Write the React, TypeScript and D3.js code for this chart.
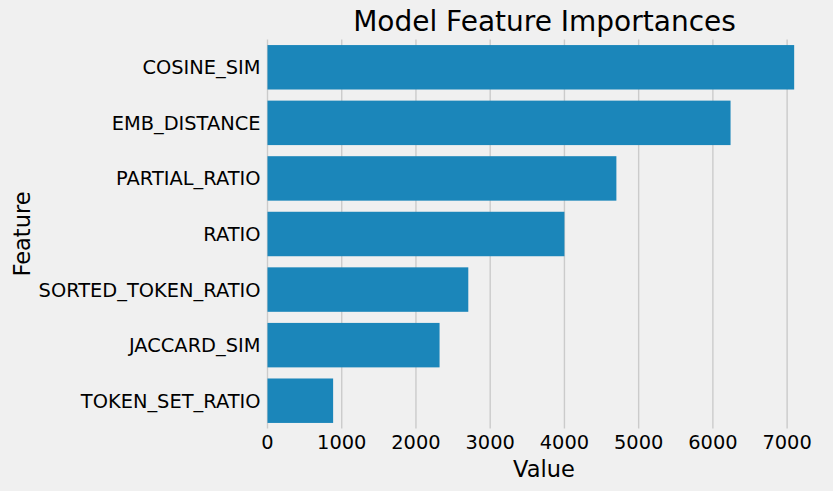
import React, { useEffect, useRef } from 'react';
import * as d3 from 'd3';

const width = 833;
const height = 491;
const margin = { top: 39.5, right: 12, bottom: 62.5, left: 267.5 };
const bg = '#f0f0f0';
const barColor = '#1b86ba';
const gridColor = '#cbcbcb';
const font = 'DejaVu Sans, sans-serif';

const features = [
    'COSINE_SIM',
    'EMB_DISTANCE',
    'PARTIAL_RATIO',
    'RATIO',
    'SORTED_TOKEN_RATIO',
    'JACCARD_SIM',
    'TOKEN_SET_RATIO',
];
const importances = [7095, 6238, 4700, 4000, 2705, 2318, 884];
const xTicks = [0, 1000, 2000, 3000, 4000, 5000, 6000, 7000];

export default function App() {
    const ref = useRef<SVGSVGElement>(null);

    useEffect(() => {
        const svg = d3.select(ref.current);
        svg.selectAll('*').remove();

        const xMax = (d3.max(importances) as number) * 1.05;
        const xScale = d3.scaleLinear().domain([0, xMax]).range([margin.left, margin.left + 553]);
        const yScale = d3.scaleBand<string>()
            .domain(features)
            .range([margin.top, height - margin.bottom])
            .paddingInner(0.2)
            .paddingOuter(0.1);

        svg.append('rect').attr('width', width).attr('height', height).attr('fill', bg);

        const top = margin.top;
        const bottom = height - margin.bottom;

        // vertical grid
        svg.append('g')
            .selectAll('line')
            .data(xTicks)
            .join('line')
            .attr('x1', d => xScale(d))
            .attr('x2', d => xScale(d))
            .attr('y1', top)
            .attr('y2', bottom)
            .attr('stroke', gridColor)
            .attr('stroke-width', 1.4);

        // bars
        svg.append('g')
            .selectAll('rect')
            .data(features)
            .join('rect')
            .attr('x', xScale(0))
            .attr('y', d => yScale(d) as number)
            .attr('width', (d, i) => xScale(importances[i]) - xScale(0))
            .attr('height', yScale.bandwidth())
            .attr('fill', barColor);

        // x tick labels
        svg.append('g')
            .selectAll('text')
            .data(xTicks)
            .join('text')
            .attr('x', d => xScale(d))
            .attr('y', 449)
            .attr('text-anchor', 'middle')
            .attr('font-family', font)
            .attr('font-size', 19.4)
            .attr('fill', '#000')
            .text(d => `${d}`);

        // y tick labels
        svg.append('g')
            .selectAll('text')
            .data(features)
            .join('text')
            .attr('x', 260.5)
            .attr('y', d => (yScale(d) as number) + yScale.bandwidth() / 2)
            .attr('dy', '0.36em')
            .attr('text-anchor', 'end')
            .attr('font-family', font)
            .attr('font-size', 19.4)
            .attr('fill', '#000')
            .text(d => d);

        const plotCx = (xScale.range()[0] + xScale.range()[1]) / 2;

        svg.append('text')
            .attr('x', plotCx)
            .attr('y', 476.5)
            .attr('text-anchor', 'middle')
            .attr('font-family', font)
            .attr('font-size', 22.5)
            .attr('fill', '#000')
            .text('Value');

        svg.append('text')
            .attr('transform', `translate(29.5, ${(top + bottom) / 2}) rotate(-90)`)
            .attr('text-anchor', 'middle')
            .attr('font-family', font)
            .attr('font-size', 22.5)
            .attr('fill', '#000')
            .text('Feature');

        svg.append('text')
            .attr('x', 544.5)
            .attr('y', 30.5)
            .attr('text-anchor', 'middle')
            .attr('font-family', font)
            .attr('font-size', 28)
            .attr('fill', '#000')
            .text('Model Feature Importances');
    }, []);

    return (
        <svg
            ref={ref}
            width={width}
            height={height}
            style={{ position: 'absolute', left: 0, top: 0, display: 'block' }}
        />
    );
}
